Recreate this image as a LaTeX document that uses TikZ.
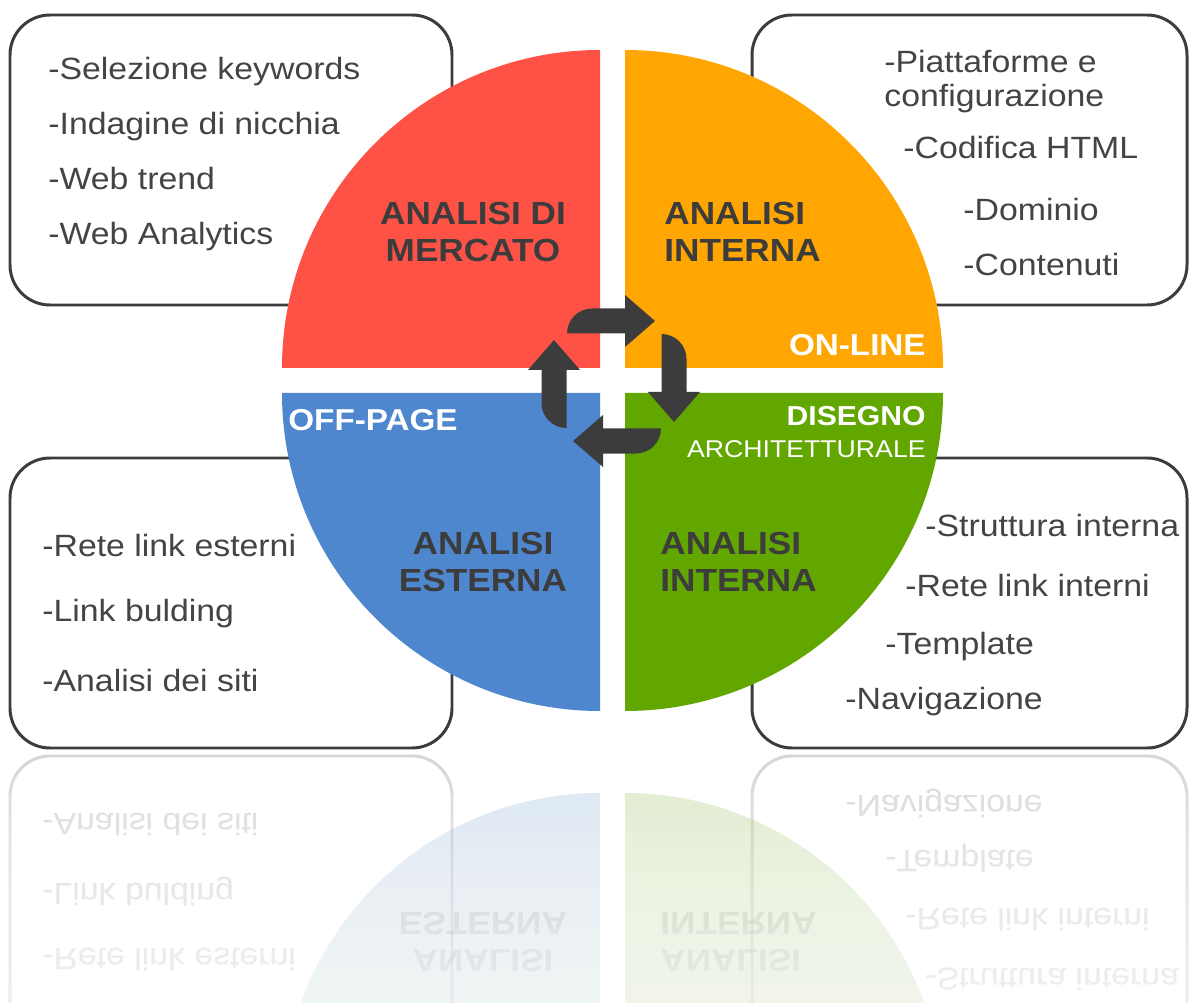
\documentclass[tikz,border=0pt]{standalone}
\usepackage{fontspec}
\setmainfont[FakeStretch=1.1]{Liberation Sans}
\usepackage{xcolor}
\definecolor{mkt}{HTML}{FF5246}
\definecolor{onl}{HTML}{FFA602}
\definecolor{ext}{HTML}{4F87CE}
\definecolor{archi}{HTML}{62A700}
\definecolor{ink}{HTML}{3C3C3C}
\definecolor{txt}{HTML}{444444}
\tikzset{listbox/.style={draw=ink, line width=1.7pt, fill=white, rounded corners=0.8cm}}
\tikzset{itemtxt/.style={anchor=base west, text=txt, inner sep=0pt, font=\fontsize{17.5}{20}\selectfont}}
\tikzset{quadlbl/.style={text=ink, align=center, inner sep=0pt, font=\bfseries\fontsize{18.2}{21}\selectfont}}
\tikzset{taglbl/.style={text=white, anchor=base east, inner sep=0pt, font=\bfseries\fontsize{17.2}{20}\selectfont}}
\tikzset{cycarrow/.style={fill=ink}}

\newcommand\lowerhalf{%
    \draw[listbox] (10,-458) rectangle (452,-748);
    \draw[listbox] (752,-458) rectangle (1187,-748);
    \fill[ext] (600,-393) -- (282,-393) arc[start angle=180, end angle=270, radius=318] -- cycle;
    \fill[archi] (625,-393) -- (943,-393) arc[start angle=0, end angle=-90, radius=318] -- cycle;
    \node[quadlbl] (esterna) at (483,-562) {ANALISI\\ESTERNA};
    \node[quadlbl, align=left, anchor=west] (intbot) at (660,-562) {ANALISI\\INTERNA};
    \node[itemtxt] (retee) at (42,-556) {-Rete link esterni};
    \node[itemtxt] (linkb) at (42,-621) {-Link bulding};
    \node[itemtxt] (siti) at (42,-691) {-Analisi dei siti};
    \node[itemtxt] (strut) at (925,-536) {-Struttura interna};
    \node[itemtxt] (retei) at (905,-596) {-Rete link interni};
    \node[itemtxt] (templ) at (885,-654) {-Template};
    \node[itemtxt] (navig) at (845,-709) {-Navigazione};
}

\begin{document}
\begin{tikzpicture}[x=0.02cm, y=0.02cm]
    \fill[white] (0,0) rectangle (1190,-1003);
    \useasboundingbox (0,0) rectangle (1190,-1003);

    \draw[listbox] (10,-15) rectangle (452,-305);
    \draw[listbox] (752,-15) rectangle (1187,-305);
    \fill[mkt] (600,-368) -- (282,-368) arc[start angle=180, end angle=90, radius=318] -- cycle;
    \fill[onl] (625,-368) -- (625,-50) arc[start angle=90, end angle=0, radius=318] -- cycle;

    \node[quadlbl] (mercato) at (473,-232) {ANALISI DI\\MERCATO};
    \node[quadlbl, align=left, anchor=west] (inttop) at (664,-232) {ANALISI\\INTERNA};
    \node[itemtxt] (selez) at (48,-80) {-Selezione keywords};
    \node[itemtxt] (indag) at (48,-135) {-Indagine di nicchia};
    \node[itemtxt] (trend) at (48,-190) {-Web trend};
    \node[itemtxt] (analy) at (48,-245) {-Web Analytics};
    \node[itemtxt] (piatt) at (884,-73) {-Piattaforme e};
    \node[itemtxt] (config) at (884,-107) {configurazione};
    \node[itemtxt] (html) at (903,-159) {-Codifica HTML};
    \node[itemtxt] (domin) at (963,-221) {-Dominio};
    \node[itemtxt] (conten) at (963,-276) {-Contenuti};
    \node[taglbl] (online) at (926,-356) {ON-LINE};

    \lowerhalf
    \node[taglbl, anchor=base west] (offpage) at (288,-431) {OFF-PAGE};
    \node[taglbl, font=\bfseries\fontsize{15.6}{18}\selectfont] (disegno) at (926,-425) {DISEGNO};
    \node[taglbl, font=\fontsize{13.8}{16}\selectfont] (archit) at (926,-458) {ARCHITETTURALE};

    \foreach \r in {0,-90,-180,-270}
        \fill[cycarrow, shift={(614,-381)}, rotate=\r] (-47,47.5) -- (11,47.5) -- (11,34) -- (41,60)
            -- (11,86) -- (11,72.5) -- (-22,72.5) arc[start angle=90, end angle=180, radius=25] -- cycle;

    \begin{scope}
        \clip (0,-752) rectangle (1190,-1003);
        \begin{scope}[shift={(0,-1504)}, yscale=-1, transform shape, opacity=0.22]
            \lowerhalf
        \end{scope}
        \foreach \i in {0,...,12}
            \fill[white, opacity=0.09] (0,{-756-19*\i}) rectangle (1190,-1003);
    \end{scope}
\end{tikzpicture}
\end{document}
